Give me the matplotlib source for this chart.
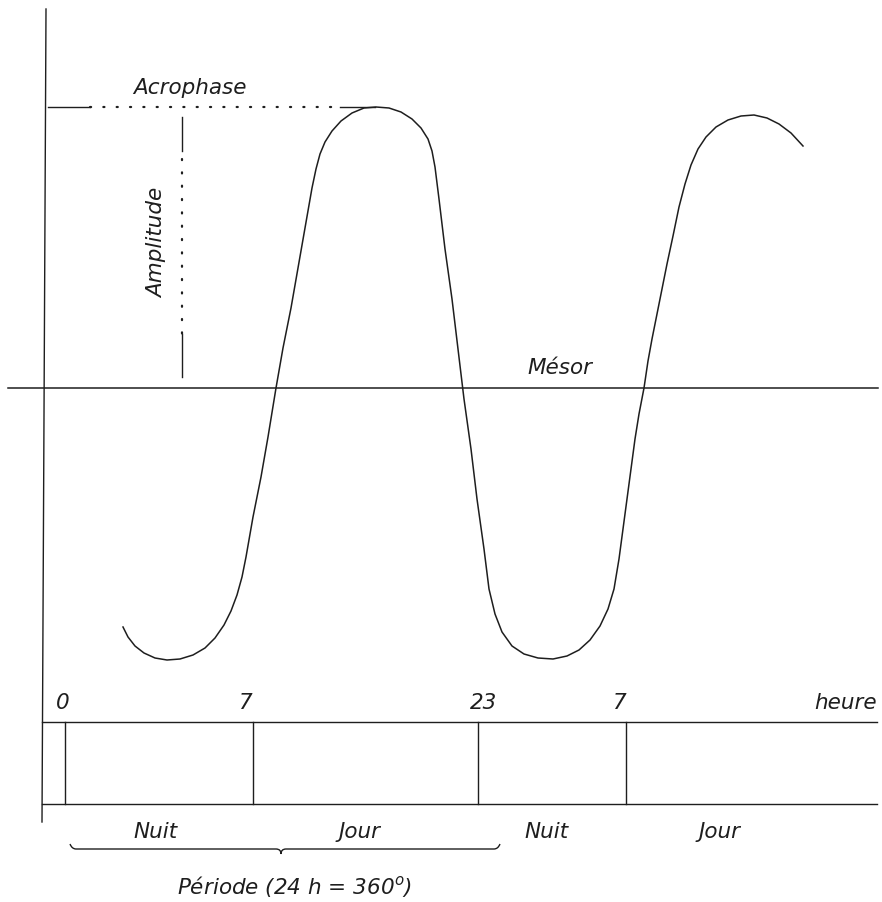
import matplotlib
matplotlib.use("Agg")
import matplotlib.pyplot as plt
from matplotlib.path import Path
from matplotlib.patches import PathPatch

curve_x = [123, 128, 135, 144, 155, 167, 180, 193, 205, 215, 224, 231, 237, 242, 246,
           253, 261, 268, 276, 283, 291, 298, 305, 312, 316, 320, 325, 332, 341, 352, 364,
           376, 389, 401, 412, 421, 428, 432, 435, 439, 445, 452, 458, 464, 471, 477, 484,
           489, 495, 502, 512, 524, 538, 553, 567, 579, 590, 600, 608, 614, 619, 623, 627,
           631, 635, 639, 644, 648, 652, 657, 662, 667, 673, 679, 685, 691, 698, 706, 716,
           728, 741, 754, 767, 779, 791, 803]
curve_y = [628, 638, 647, 654, 659, 661, 660, 656, 649, 639, 626, 612, 596, 578, 558,
           518, 478, 438, 389, 349, 309, 269, 229, 189, 170, 155, 143, 132, 122, 114, 109,
           108, 109, 113, 120, 129, 140, 152, 168, 200, 250, 300, 350, 400, 450, 500, 550,
           590, 615, 633, 647, 655, 659, 660, 657, 651, 641, 627, 610, 590, 560, 530, 500,
           470, 440, 415, 389, 362, 340, 315, 290, 265, 237, 208, 185, 166, 150, 138, 128,
           121, 117, 116, 119, 125, 134, 147]

hour_labels = ["0", "7", "23", "7"]
hour_pos = [63, 246, 484, 620]
divider_pos = [65, 253, 478, 626]
period_labels = ["Nuit", "Jour", "Nuit", "Jour"]
period_pos = [155, 360, 546, 720]

mesor_y = 389
acro_y = 108
acro_x = 375
ampl_x = 182

ink = "#1e1e1e"
fs = 15.5
plt.rcParams['font.family'] = ['DejaVu Sans']

fig = plt.figure(figsize=(8.82, 9.03), dpi=100)
ax = fig.add_axes([0, 0, 1, 1])
ax.set_xlim(0, 882)
ax.set_ylim(903, 0)
ax.axis("off")

# axe vertical
ax.plot([46, 42], [10, 823], color=ink, lw=1.0)
# ligne du mesor
ax.plot([8, 878], [mesor_y, mesor_y], color=ink, lw=1.1)

# courbe
ax.plot(curve_x, curve_y, color=ink, lw=1.1, solid_joinstyle="round")

# acrophase (trait - pointille - trait)
ax.plot([48, 90], [acro_y, acro_y], color=ink, lw=1.0)
ax.plot([90, 340], [acro_y, acro_y], color=ink, lw=1.6, linestyle=(0, (0.5, 5.5)),
        dash_capstyle="round")
ax.plot([340, acro_x], [acro_y, acro_y], color=ink, lw=1.0)
ax.text(190, 88, "Acrophase", fontsize=fs, style="italic", color=ink,
        ha="center", va="center")

# amplitude
ax.plot([ampl_x, ampl_x], [118, 152], color=ink, lw=1.0)
ax.plot([ampl_x, ampl_x], [160, 335], color=ink, lw=1.6, linestyle=(0, (0.5, 5.5)),
        dash_capstyle="round")
ax.plot([ampl_x, ampl_x], [335, 378], color=ink, lw=1.0)
ax.text(157, 243, "Amplitude", fontsize=fs, style="italic", color=ink,
        ha="center", va="center", rotation=90)

ax.text(560, 368, "Mésor", fontsize=fs, style="italic", color=ink,
        ha="center", va="center")

# barre des heures
ax.plot([42, 877], [723, 723], color=ink, lw=1.0)
ax.plot([42, 877], [805, 805], color=ink, lw=1.0)
for xd in divider_pos:
    ax.plot([xd, xd], [723, 805], color=ink, lw=1.0)
for lab, xp in zip(hour_labels, hour_pos):
    ax.text(xp, 703, lab, fontsize=fs, style="italic", color=ink,
            ha="center", va="center")
ax.text(877, 703, "heure", fontsize=fs, style="italic", color=ink,
        ha="right", va="center")
for lab, xp in zip(period_labels, period_pos):
    ax.text(xp, 832, lab, fontsize=fs, style="italic", color=ink,
            ha="center", va="center")

# accolade de la periode
verts = [(70, 845), (72, 850), (76, 850), (276, 850), (281, 850), (281, 855),
         (281, 850), (286, 850), (494, 850), (498, 850), (500, 845)]
codes = [Path.MOVETO, Path.CURVE3, Path.CURVE3, Path.LINETO, Path.CURVE3, Path.CURVE3,
         Path.CURVE3, Path.CURVE3, Path.LINETO, Path.CURVE3, Path.CURVE3]
ax.add_patch(PathPatch(Path(verts, codes), fill=False, edgecolor=ink, lw=1.0))
ax.text(295, 887, "Période (24 h = 360$^o$)", fontsize=fs, style="italic", color=ink,
        ha="center", va="center")

fig.savefig("out.png", dpi=100, facecolor="white")
